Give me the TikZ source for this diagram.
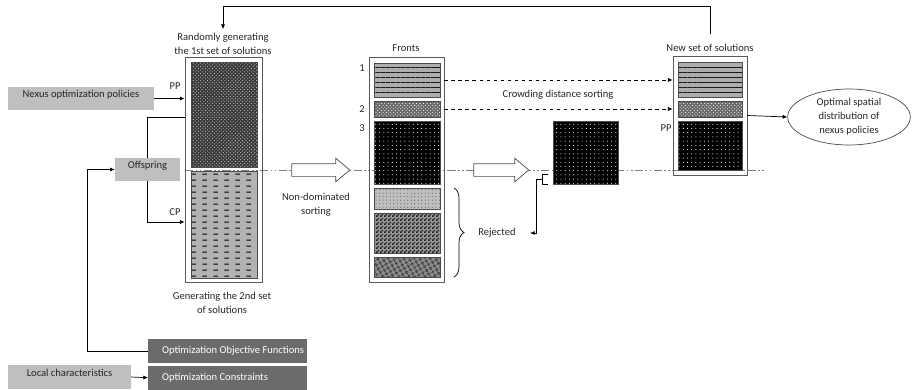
\documentclass[tikz,border=0pt]{standalone}
\usepackage{fontspec}
\setmainfont{Carlito}
\usepackage{tikz}
\usetikzlibrary{arrows.meta, positioning, fit, shapes.geometric, shapes.arrows, patterns, patterns.meta, decorations.pathreplacing}

\tikzdeclarepattern{
	name=dashrows,
	type=uncolored,
	bounding box={(0pt,0pt) and (9pt,5pt)},
	tile size={(9pt,5pt)},
	code={\draw[line width=0.9pt] (2pt,2.5pt) -- (6pt,2.5pt);}
}
\tikzdeclarepattern{
	name=finechecker,
	type=uncolored,
	bounding box={(0pt,0pt) and (3pt,3pt)},
	tile size={(3pt,3pt)},
	code={\fill (0pt,0pt) rectangle (1.5pt,1.5pt) (1.5pt,1.5pt) rectangle (3pt,3pt);}
}

\begin{document}
\begin{tikzpicture}[
		x=0.03cm, y=-0.03cm,
		font=\fontsize{9}{12}\selectfont,
		every node/.style={text=black!85},
		arr/.style={-{Latex[length=4pt,width=3.5pt]}, line width=0.6pt},
		col/.style={draw=black!65, line width=0.6pt, inner sep=0pt},
		cell/.style={draw=black!70, line width=0.5pt, inner sep=0pt},
		stripecell/.style={cell, preaction={fill=black!32}, pattern={Lines[distance=4.3pt, line width=1.1pt]}, pattern color=black!90},
		meshcell/.style={cell, preaction={fill=black!60}, pattern=crosshatch dots, pattern color=white},
		darkmesh/.style={cell, preaction={fill=black!78}, pattern=crosshatch dots, pattern color=black!20},
		dashcell/.style={cell, preaction={fill=black!30}, pattern=dashrows, pattern color=black},
		nightcell/.style={cell, preaction={fill=black}, pattern={Dots[radius=0.45pt, distance=3.6pt]}, pattern color=white},
		sandcell/.style={cell, preaction={fill=black!25}, pattern=dots, pattern color=black!60},
		checkcell/.style={cell, preaction={fill=black!40}, pattern=finechecker, pattern color=black!90},
		weavecell/.style={cell, preaction={fill=black!45}, pattern={Hatch[distance=4pt, angle=30, line width=0.9pt]}, pattern color=black!80},
		lightbox/.style={fill=black!25, inner sep=0pt},
		darkbox/.style={fill=black!58, inner sep=0pt, minimum width=4.77cm, minimum height=0.72cm},
		hollow/.style={single arrow, draw=black!70, fill=white, line width=0.6pt, inner sep=0.18cm, minimum width=0.69cm, single arrow head extend=0.165cm, single arrow tip angle=80},
		dashdot/.style={draw=black!50, line width=0.8pt, dash pattern=on 7pt off 2pt on 1.5pt off 2pt on 1.5pt off 2pt}
		]
		\useasboundingbox (0,0) rectangle (912,390);
		
		% cut line
		\coordinate (cut) at (764,170);
		\draw[dashdot] (185,170) -- (cut);
		
		% Columns
		\node[col, fit={(185,57) (262,282)}] (gen) {};
		\node[darkmesh, fit={(191,62) (257,167)}] (sol1) {};
		\node[dashcell, fit={(191,171) (257,278)}] (sol2) {};
		
		\node[col, fit={(369,57) (444,282)}] (fronts) {};
		\node[stripecell, fit={(374,63) (440,97)}] (f1) {};
		\node[meshcell, fit={(374,101) (440,117)}] (f2) {};
		\node[nightcell, fit={(374,121) (440,184)}] (f3) {};
		\node[sandcell, fit={(374,188) (440,209)}] (r1) {};
		\node[checkcell, fit={(374,213) (440,253)}] (r2) {};
		\node[weavecell, fit={(374,257) (440,277)}] (r3) {};
		
		\node[nightcell, fit={(553,121) (618,184)}] (sel) {};
		
		\node[col, fit={(673,56) (747,175)}] (new) {};
		\node[stripecell, fit={(678,62) (742,97)}] (n1) {};
		\node[meshcell, fit={(678,101) (742,117)}] (n2) {};
		\node[nightcell, fit={(678,121) (742,170)}] (n3) {};
		
		% Labels
		\node[align=center] (genlbl) at (223,44) {Randomly generating\\the 1st set of solutions};
		\node[align=center] (gen2lbl) at (222,303) {Generating the 2nd set\\of solutions};
		\node (frontlbl) at (406,48) {Fronts};
		\node (newlbl) at (710,48) {New set of solutions};
		\node (no1) at (362,68) {1};
		\node (no2) at (362,109) {2};
		\node (no3) at (362,128) {3};
		\node (pp1) at (175,86) {PP};
		\node (cp) at (175,212) {CP};
		\node (pp2) at (666,128) {PP};
		\node[align=center] (nds) at (316,205) {Non-dominated\\sorting};
		\node (cds) at (558,95) {Crowding distance sorting};
		\node (rej) at (497,233) {Rejected};
		
		% Inputs
		\node[lightbox, fit={(8,87) (154,110)}] (pol) {Nexus optimization policies};
		\node[lightbox, fit={(115,158) (180,181)}] (off) {Offspring};
		\node[darkbox, anchor=north west] (obj) at (148,339) {};
		\node[darkbox, below=0.06cm of obj] (cons) {};
		\node[anchor=west, text=white] (objtxt) at ([xshift=0.3cm]obj.west) {Optimization Objective Functions};
		\node[anchor=west, text=white] (constxt) at ([xshift=0.3cm]cons.west) {Optimization Constraints};
		\node[lightbox, fit={(8,365) (131,389)}] (loc) {Local characteristics};
		
		\node[ellipse, draw=black!70, line width=0.6pt, minimum width=3.68cm, minimum height=1.68cm, inner sep=0pt, align=center] (opt) at (849,117) {Optimal spatial\\distribution of\\nexus policies};
		
		% Hollow arrows
		\node[hollow, minimum height=1.74cm] (ndsarrow) at (317,170) {};
		\node[hollow, minimum height=1.65cm] (selarrow) at (497.5,170) {};
		
		% Arrows
		\draw[arr] (pol.east) -- (pol.east -| gen.west);
		\draw[line width=0.6pt] (gen.west |- 0,117) -| (off.north);
		\draw[arr] (off.south) |- (gen.west |- 0,222);
		\draw[arr] (obj.west) -- ++(-61,0) |- (off.west);
		\draw[arr] (loc.east) -- (cons.west);
		\draw[arr, shorten <=0.18cm] (newlbl.north) |- (genlbl.north |- 0,6) -- (genlbl.north);
		\draw[arr, dashed] (fronts.east |- f1.east) -- (new.west |- f1.east);
		\draw[arr, dashed] (fronts.east |- f2.east) -- (new.west |- f2.east);
		\draw[arr] (new.east) -- (opt.west);
		
		% Rejected
		\coordinate (rejtip) at (530,233);
		\draw[line width=0.6pt] (548,174) -- (542,174) -- (542,184) -- (548,184);
		\draw[arr] (542,179) -- (536,179) |- (rejtip);
		\draw[line width=0.6pt, decorate, decoration={brace, amplitude=0.3cm}] (454,188) -- (454,277);
	\end{tikzpicture}
\end{document}
